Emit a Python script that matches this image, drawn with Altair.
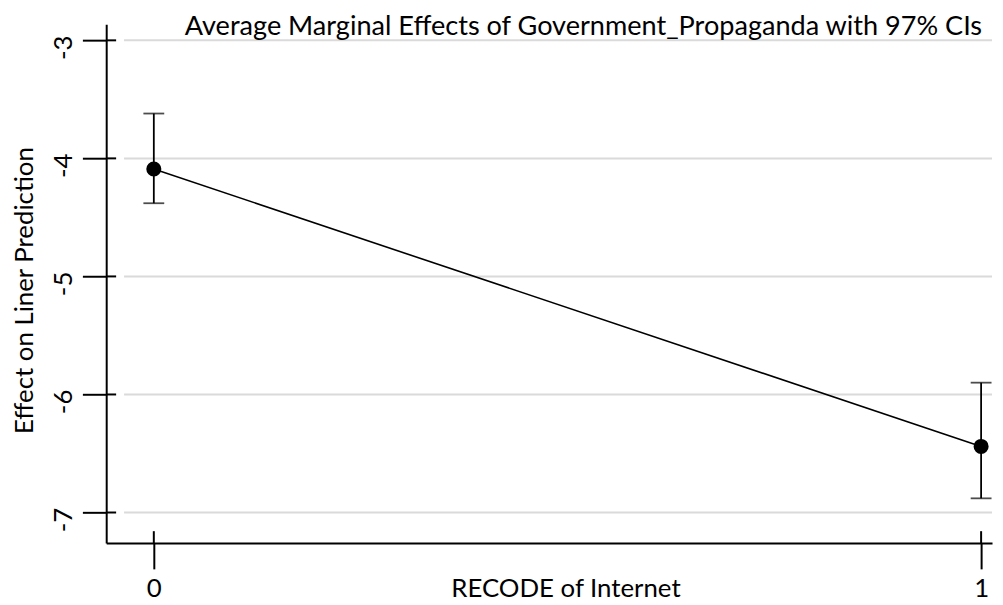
import altair as alt
import pandas as pd

# ---- data ----
internet = [0, 1]
margin = [-4.09, -6.44]
ci_low = [-4.38, -6.88]
ci_high = [-3.62, -5.90]

y_ticks = [-3, -4, -5, -6, -7]
x_ticks = [0, 1]

title_text = "Average Marginal Effects of Government_Propaganda with 97% CIs"
x_title = "RECODE of Internet"
y_title = "Effect on Liner Prediction"

df = pd.DataFrame({"x": internet, "y": margin, "lo": ci_low, "hi": ci_high})
grid_df = pd.DataFrame({"y": y_ticks})
xt_df = pd.DataFrame({"x": x_ticks})
title_df = pd.DataFrame({"t": [title_text]})

W, H = 893, 523
FONT = "Lato"

xscale = alt.Scale(domain=[-0.05755, 1.01319], nice=False, zero=False)
yscale = alt.Scale(domain=[-7.259, -2.864], nice=False, zero=False)

xaxis = alt.Axis(
    values=x_ticks, grid=False, title=x_title,
    labelExpr="'' + datum.value",
    tickSize=26, tickWidth=2, tickColor="black",
    domainColor="black", domainWidth=2,
    labelFont=FONT, labelFontSize=26, labelColor="black",
    labelBaseline="alphabetic", labelPadding=28, labelFlush=False,
    titleFont=FONT, titleFontSize=26, titleFontWeight="normal", titleColor="black",
    titleBaseline="alphabetic", titleX=463, titleY=54, titleAlign="center",
)
yaxis = alt.Axis(
    values=y_ticks, grid=False, title=y_title,
    labelExpr="'' + datum.value",
    tickSize=24, tickWidth=2, tickColor="black",
    domainColor="black", domainWidth=2,
    labelFont=FONT, labelFontSize=26, labelColor="black",
    labelAngle=270, labelAlign="center", labelBaseline="alphabetic",
    labelPadding=11, labelOffset=7, labelFlush=False,
    titleFont=FONT, titleFontSize=26, titleFontWeight="normal", titleColor="black",
    titleAngle=270, titleBaseline="alphabetic", titleAlign="center",
    titleX=-74, titleY=268,
)

X = lambda f: alt.X(f, type="quantitative", scale=xscale, axis=xaxis)
Y = lambda f: alt.Y(f, type="quantitative", scale=yscale, axis=yaxis)

grid = alt.Chart(grid_df).mark_rule(color="#dadada", strokeWidth=2).encode(
    y=Y("y"), x=alt.value(18), x2=alt.value(W)
)
ytick_in = alt.Chart(grid_df).mark_rule(color="black", strokeWidth=2).encode(
    y=Y("y"), x=alt.value(0), x2=alt.value(10)
)
xtick_in = alt.Chart(xt_df).mark_rule(color="black", strokeWidth=2).encode(
    x=X("x"), y=alt.value(H - 12), y2=alt.value(H)
)
line = alt.Chart(df).mark_line(color="black", strokeWidth=1.6).encode(
    x=X("x"), y=Y("y")
)
bars = alt.Chart(df).mark_rule(color="black", strokeWidth=1.8).encode(
    x=X("x"), y=Y("lo"), y2="hi"
)
cap_lo = alt.Chart(df).mark_tick(color="black", thickness=1.8, size=21, orient="horizontal").encode(
    x=X("x"), y=Y("lo")
)
cap_hi = alt.Chart(df).mark_tick(color="black", thickness=1.8, size=21, orient="horizontal").encode(
    x=X("x"), y=Y("hi")
)
pts = alt.Chart(df).mark_point(filled=True, color="black", size=230, opacity=1).encode(
    x=X("x"), y=Y("y")
)
title = alt.Chart(title_df).mark_text(
    font=FONT, fontSize=27.3, align="right", baseline="alphabetic", color="black"
).encode(text="t:N", x=alt.value(883), y=alt.value(11))

chart = alt.layer(grid, ytick_in, xtick_in, line, bars, cap_lo, cap_hi, pts, title).properties(
    width=W, height=H,
    autosize=alt.AutoSizeParams(type="none"),
    padding={"left": 99, "top": 14, "right": 3, "bottom": 60},
    background="white",
).configure_view(stroke=None)

chart.save("out.html", embed_options={"renderer": "svg", "actions": False})
